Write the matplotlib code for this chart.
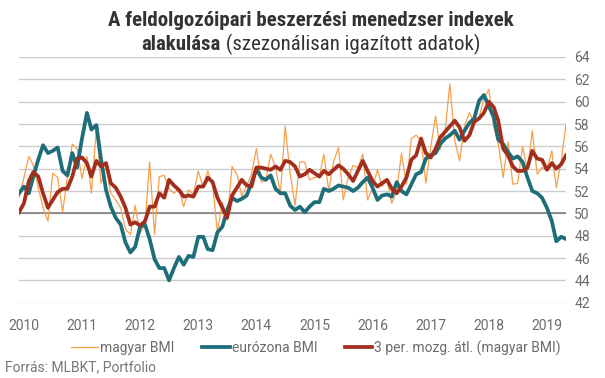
import matplotlib
matplotlib.use('Agg')
import matplotlib.pyplot as plt
import pandas as pd

plt.rcParams['font.family'] = ['Roboto', 'DejaVu Sans']

# havi adatok, 2009 dec - 2019 máj
months = pd.date_range('2009-12-01', periods=114, freq='MS')
years = list(range(2010, 2020))

magyar_bmi = [
    51.4, 53.2, 55.1, 54.3, 52.3, 50.5, 49.3, 53.6, 53.2, 50.1, 53.3, 56.2, 55.8,
    53.1, 55.1, 51.8, 57.5, 52.7, 54.2, 51.8, 51.2, 50.5, 48.6, 48.1, 50.7,
    48.2, 49.0, 54.6, 48.1, 53.3, 53.4, 52.2, 51.8, 52.2, 50.6, 52.1, 51.7,
    53.8, 52.3, 53.8, 52.6, 48.3, 51.0, 49.4, 54.2, 53.5, 51.5, 52.5, 53.5,
    55.8, 52.8, 53.0, 55.3, 54.1, 51.8, 57.8, 53.6, 50.7, 54.6, 54.6, 53.0,
    53.2, 53.3, 55.3, 52.0, 54.6, 55.9, 51.2, 53.2, 54.3, 54.1, 55.3, 51.2,
    52.3, 53.9, 52.4, 53.0, 50.9, 52.0, 55.4, 52.6, 56.7, 57.0, 56.5, 52.7,
    56.0, 58.7, 55.7, 57.3, 61.6, 56.5, 54.7, 57.8, 59.0, 58.1, 58.6, 60.3,
    61.1, 57.7, 56.3, 53.2, 56.4, 52.6, 52.7, 56.0, 53.8, 57.4, 53.5, 54.1,
    53.9, 55.6, 52.3, 54.7, 58.0,
]

eurozona_bmi = [
    51.8, 52.4, 51.8, 53.3, 54.8, 56.1, 55.4, 55.6, 55.9, 53.8, 53.4, 55.4, 54.1,
    56.7, 59.0, 57.5, 57.9, 54.8, 52.1, 50.6, 49.6, 49.0, 47.4, 46.5, 47.0,
    48.8, 49.0, 47.7, 45.9, 45.1, 45.1, 44.0, 45.1, 46.1, 45.4, 46.2, 46.1,
    47.9, 47.9, 46.8, 46.7, 48.3, 48.8, 50.3, 51.4, 51.1, 51.3, 51.6, 52.7,
    54.0, 53.2, 53.0, 53.4, 52.2, 51.8, 51.8, 50.7, 50.3, 50.6, 50.1, 50.6,
    51.0, 51.0, 52.2, 52.0, 52.2, 52.5, 52.4, 52.3, 52.0, 52.3, 52.8, 53.2,
    52.3, 51.2, 51.6, 51.7, 51.5, 52.8, 52.0, 51.7, 52.6, 53.5, 53.7, 54.9,
    55.2, 55.4, 56.2, 56.7, 57.0, 57.4, 56.6, 57.4, 58.1, 58.5, 60.1, 60.6,
    59.6, 58.6, 56.6, 56.2, 55.5, 54.9, 55.1, 54.6, 53.2, 52.0, 51.8, 51.4,
    50.5, 49.3, 47.5, 47.9, 47.7,
]

mozg_atl = [
    50.1, 50.9, 52.9, 53.7, 53.3, 51.8, 50.5, 51.2, 51.9, 52.2, 52.2, 53.3, 54.9,
    55.0, 54.5, 53.3, 54.7, 54.2, 54.5, 52.7, 52.3, 51.5, 50.5, 49.0, 49.2,
    48.9, 49.3, 50.6, 50.6, 51.8, 51.4, 53.0, 52.5, 52.1, 51.5, 51.6, 51.5,
    52.4, 52.4, 53.2, 52.8, 51.4, 50.5, 49.6, 51.6, 52.3, 53.0, 52.5, 52.4,
    54.1, 54.1, 54.0, 53.9, 54.2, 53.9, 54.7, 54.6, 54.2, 53.3, 53.5, 53.9,
    53.6, 53.3, 53.8, 53.5, 53.9, 54.3, 54.0, 53.5, 52.9, 53.8, 54.7, 53.8,
    52.9, 52.4, 52.7, 53.0, 52.2, 51.8, 52.4, 53.2, 54.8, 55.2, 56.7, 55.4,
    55.0, 55.8, 56.8, 57.3, 57.8, 58.3, 57.7, 56.5, 57.0, 58.2, 58.5, 59.0,
    60.0, 59.5, 58.3, 55.8, 55.2, 54.2, 53.8, 53.8, 54.1, 55.6, 54.9, 54.8,
    53.9, 54.5, 54.0, 54.4, 55.2,
]

W, H = 605, 378
fig = plt.figure(figsize=(W / 100, H / 100), dpi=100)
ax = fig.add_axes([19 / W, 1 - 302.7 / H, (566 - 19) / W, (302.7 - 57) / H])

ax.plot(months, magyar_bmi, color='#f7a04c', lw=0.9, label='magyar BMI', zorder=3)
ax.plot(months, eurozona_bmi, color='#1d6e78', lw=2.7, label='eurózona BMI', zorder=4)
ax.plot(months, mozg_atl, color='#a22f1e', lw=2.7,
        label='3 per. mozg. átl. (magyar BMI)', zorder=5)

ax.set_xlim(months[0], months[-1])
ax.set_ylim(42, 64)
ax.set_yticks(range(42, 65, 2))
ax.yaxis.tick_right()
ax.set_xticks([pd.Timestamp(f'{y}-01-01') for y in years])
ax.set_xticklabels([str(y) for y in years])
ax.grid(axis='y', color='#cccccc', lw=1)
ax.axhline(50, color='#878787', lw=1.3, zorder=2)
for s in ax.spines.values():
    s.set_visible(False)
ax.tick_params(axis='both', length=0, colors='#6b6b6b', labelsize=10)
ax.tick_params(axis='x', pad=12)
ax.tick_params(axis='y', pad=6)

fig.legend(loc='center', bbox_to_anchor=(316 / W, 1 - 348 / H), ncol=3,
           frameon=False, fontsize=10, labelcolor='#6b6b6b',
           handlelength=1.95, handletextpad=0.15, columnspacing=2.0)

fig.text(5 / W, 1 - 367 / H, 'Forrás: MLBKT, Portfolio', ha='left', va='center',
         fontsize=10, color='#777777')

# cím: első sor félkövér, második sor vegyes
tfam = ['Roboto Condensed', 'Liberation Sans Narrow', 'Roboto', 'DejaVu Sans']
fig.text(311 / W, 1 - 26 / H, 'A feldolgozóipari beszerzési menedzser indexek',
         ha='center', va='baseline', fontsize=15, fontweight='bold',
         color='#333333', family=tfam)
b = fig.text(0, 1 - 50 / H, 'alakulása', ha='left', va='baseline', fontsize=15,
             fontweight='bold', color='#333333', family=tfam)
n = fig.text(0, 1 - 50 / H, ' (szezonálisan igazított adatok)', ha='left',
             va='baseline', fontsize=15, color='#333333', family=tfam)
fig.canvas.draw()
r = fig.canvas.get_renderer()
wb = b.get_window_extent(r).width
wn = n.get_window_extent(r).width
x0 = 311 - (wb + wn) / 2
b.set_x(x0 / W)
n.set_x((x0 + wb) / W)

fig.savefig('out.png', dpi=100)
